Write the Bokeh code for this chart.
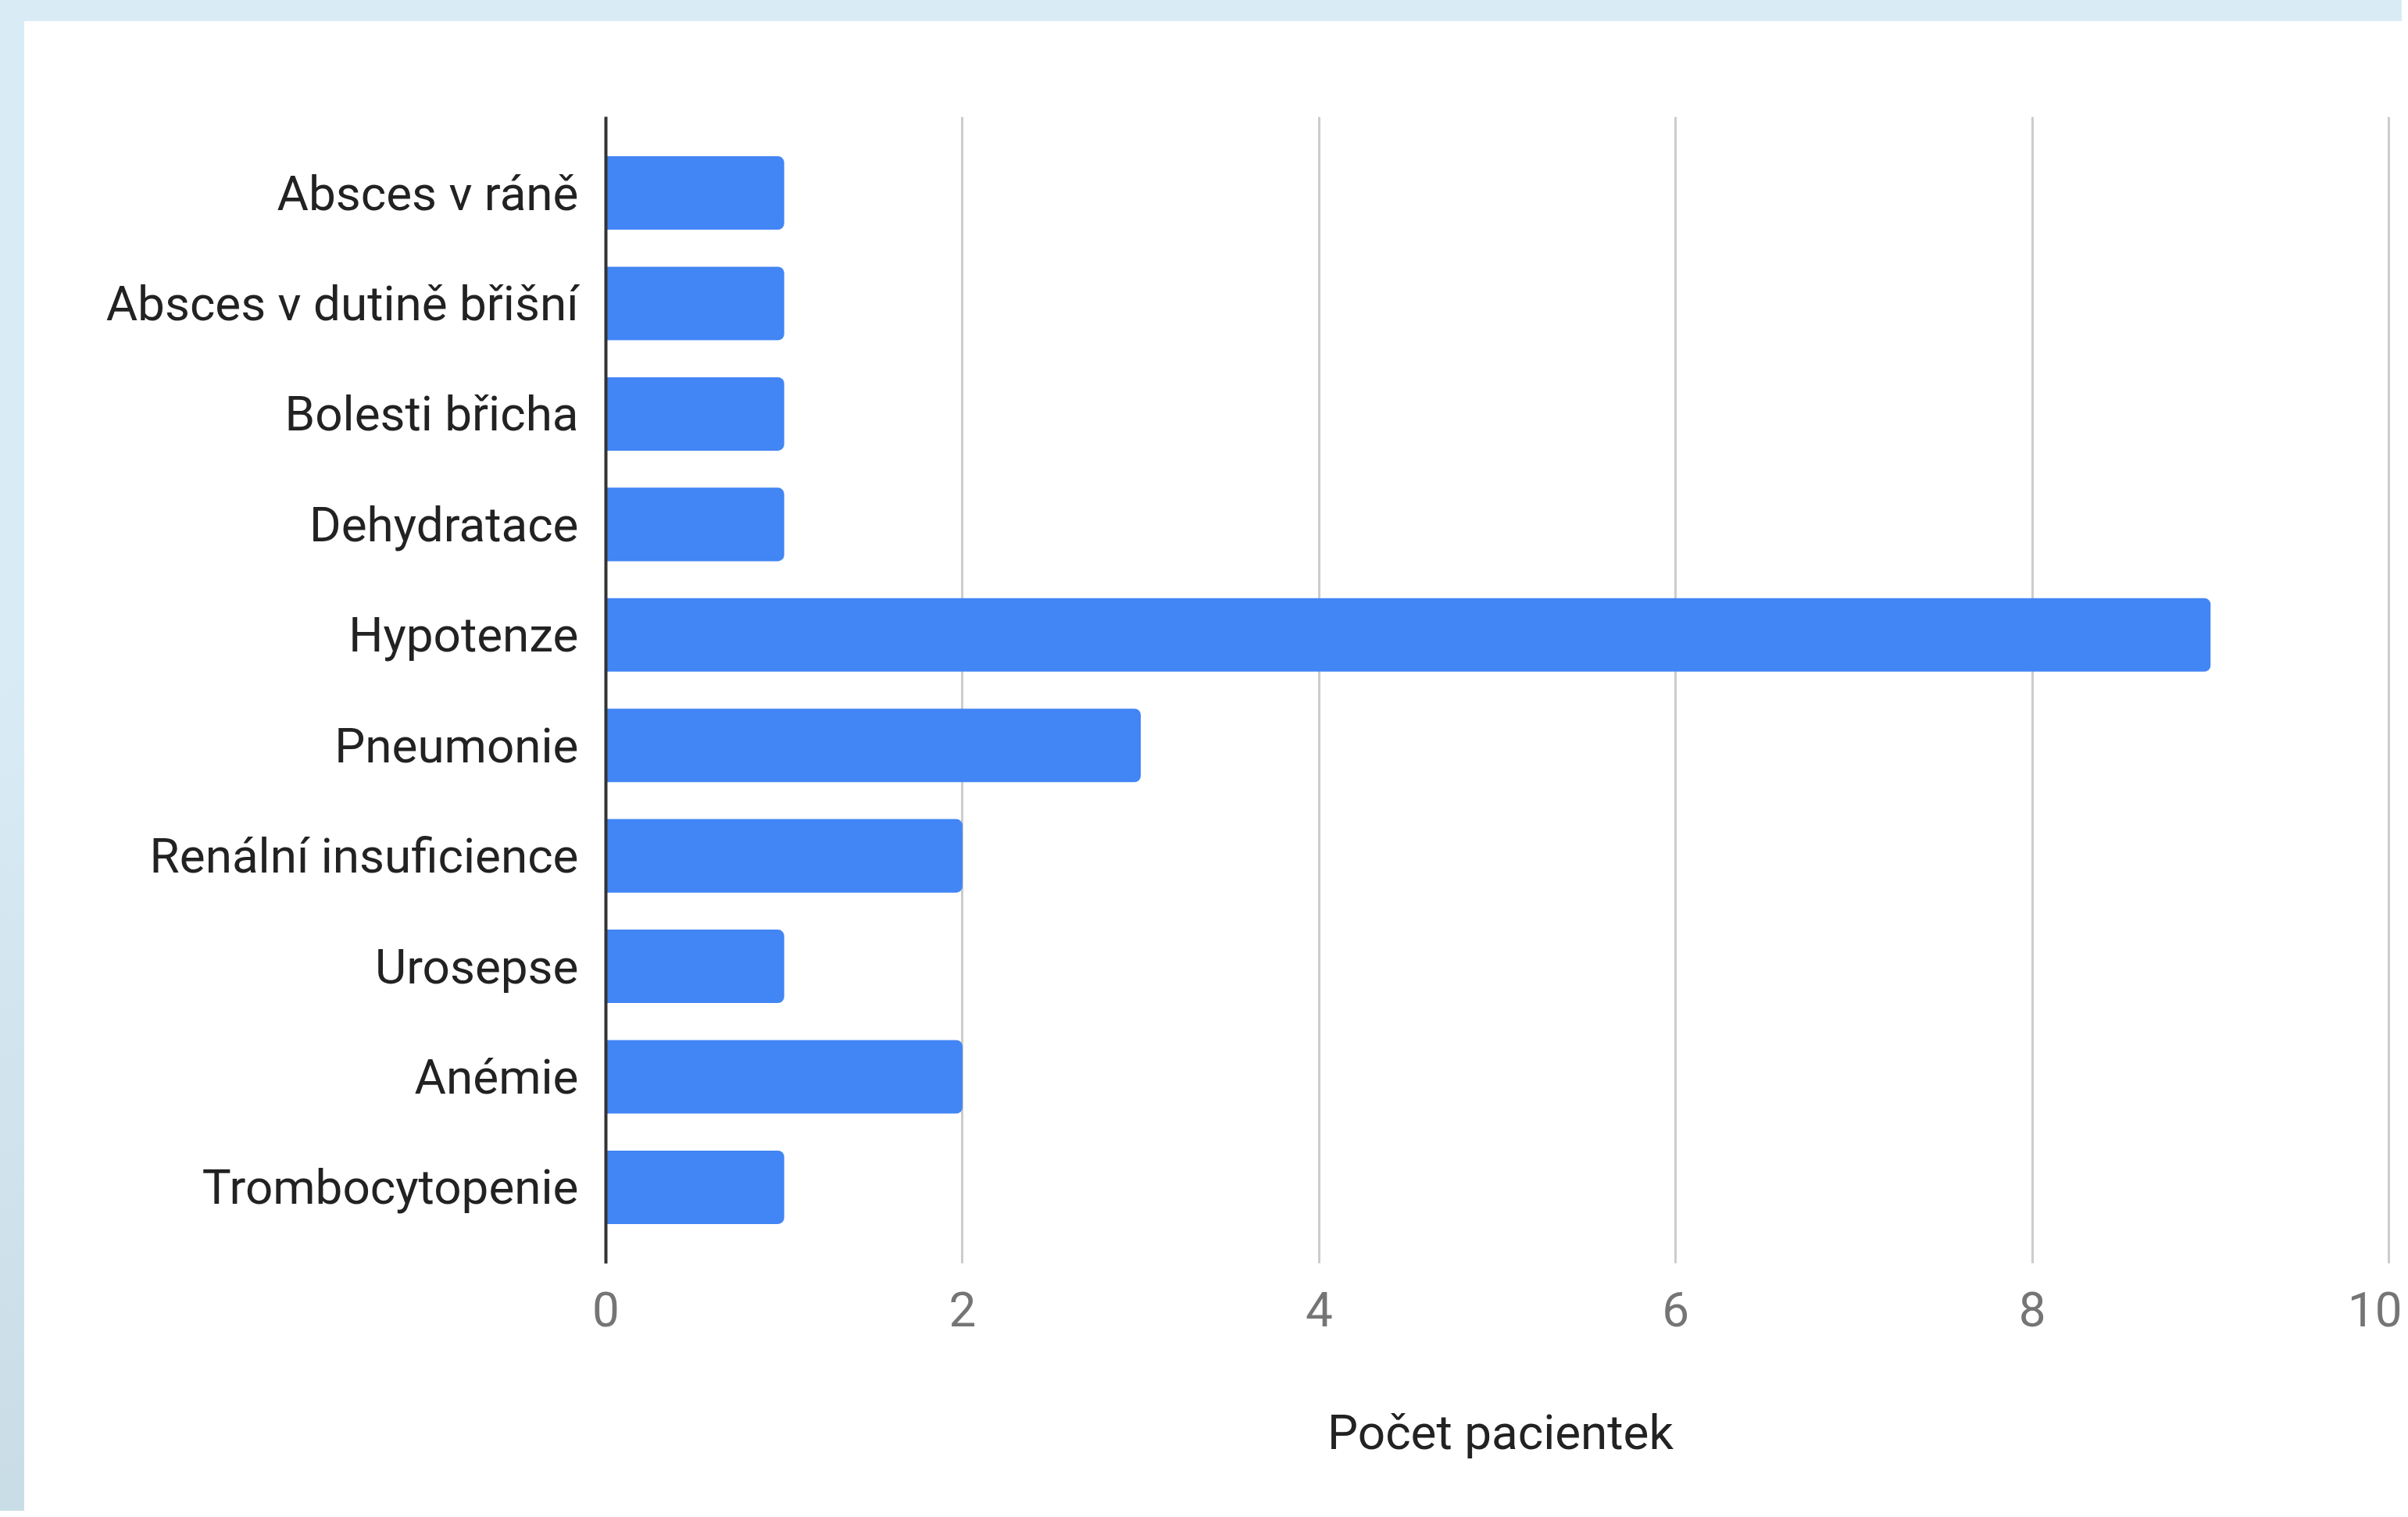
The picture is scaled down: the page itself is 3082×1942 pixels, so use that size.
from bokeh.plotting import figure
from bokeh.models import FactorRange, Range1d, FixedTicker
from bokeh.embed import file_html
from bokeh.resources import INLINE

categories = [
    "Absces v ráně",
    "Absces v dutině břišní",
    "Bolesti břicha",
    "Dehydratace",
    "Hypotenze",
    "Pneumonie",
    "Renální insuficience",
    "Urosepse",
    "Anémie",
    "Trombocytopenie",
]
counts = [1, 1, 1, 1, 9, 3, 2, 1, 2, 1]
x_ticks = [0, 2, 4, 6, 8, 10]
x_title = "Počet pacientek"

FONT = "Roboto"
W, H = 3074, 1934

p = figure(
    width=W, height=H,
    y_range=FactorRange(factors=list(reversed(categories)),
                        range_padding=0.19, range_padding_units="absolute"),
    x_range=Range1d(0, 10.035),
    output_backend="svg", toolbar_location=None,
    min_border_left=775, min_border_right=W - 3065,
    min_border_top=149, min_border_bottom=H - 1617,
)
p.border_fill_color = None
p.background_fill_color = "white"
p.outline_line_color = None
p.styles = {
    "background": "linear-gradient(#ffffff, #ffffff) 31px 27px / 100% 100% no-repeat, "
                  "linear-gradient(#d9ebf5, #d9ebf5 45%, #c9dde6)",
}

p.hbar(y=categories, right=counts, left=0, height=0.665,
       fill_color="#4285F4", line_color=None,
       border_radius=(0, 8, 8, 0))

# grid
p.ygrid.grid_line_color = None
p.xgrid.ticker = FixedTicker(ticks=x_ticks)
p.xgrid.grid_line_color = "#cccccc"
p.xgrid.grid_line_width = 3

# x axis
xa = p.xaxis[0]
xa.ticker = FixedTicker(ticks=x_ticks)
xa.axis_line_color = None
xa.major_tick_line_color = None
xa.minor_tick_line_color = None
xa.major_tick_out = 0
xa.major_label_standoff = 36
xa.major_label_text_font = FONT
xa.major_label_text_font_size = "62px"
xa.major_label_text_color = "#757575"
xa.axis_label = x_title
xa.axis_label_text_font = FONT
xa.axis_label_text_font_size = "62px"
xa.axis_label_text_font_style = "normal"
xa.axis_label_text_color = "#222222"
xa.axis_label_standoff = 96

# y axis
ya = p.yaxis[0]
ya.axis_line_color = "#333333"
ya.axis_line_width = 4
ya.major_tick_line_color = None
ya.minor_tick_line_color = None
ya.major_tick_out = 0
ya.major_label_standoff = 35
ya.major_label_text_font = FONT
ya.major_label_text_font_size = "62px"
ya.major_label_text_color = "#222222"

open("out.html", "w").write(file_html(p, INLINE))
